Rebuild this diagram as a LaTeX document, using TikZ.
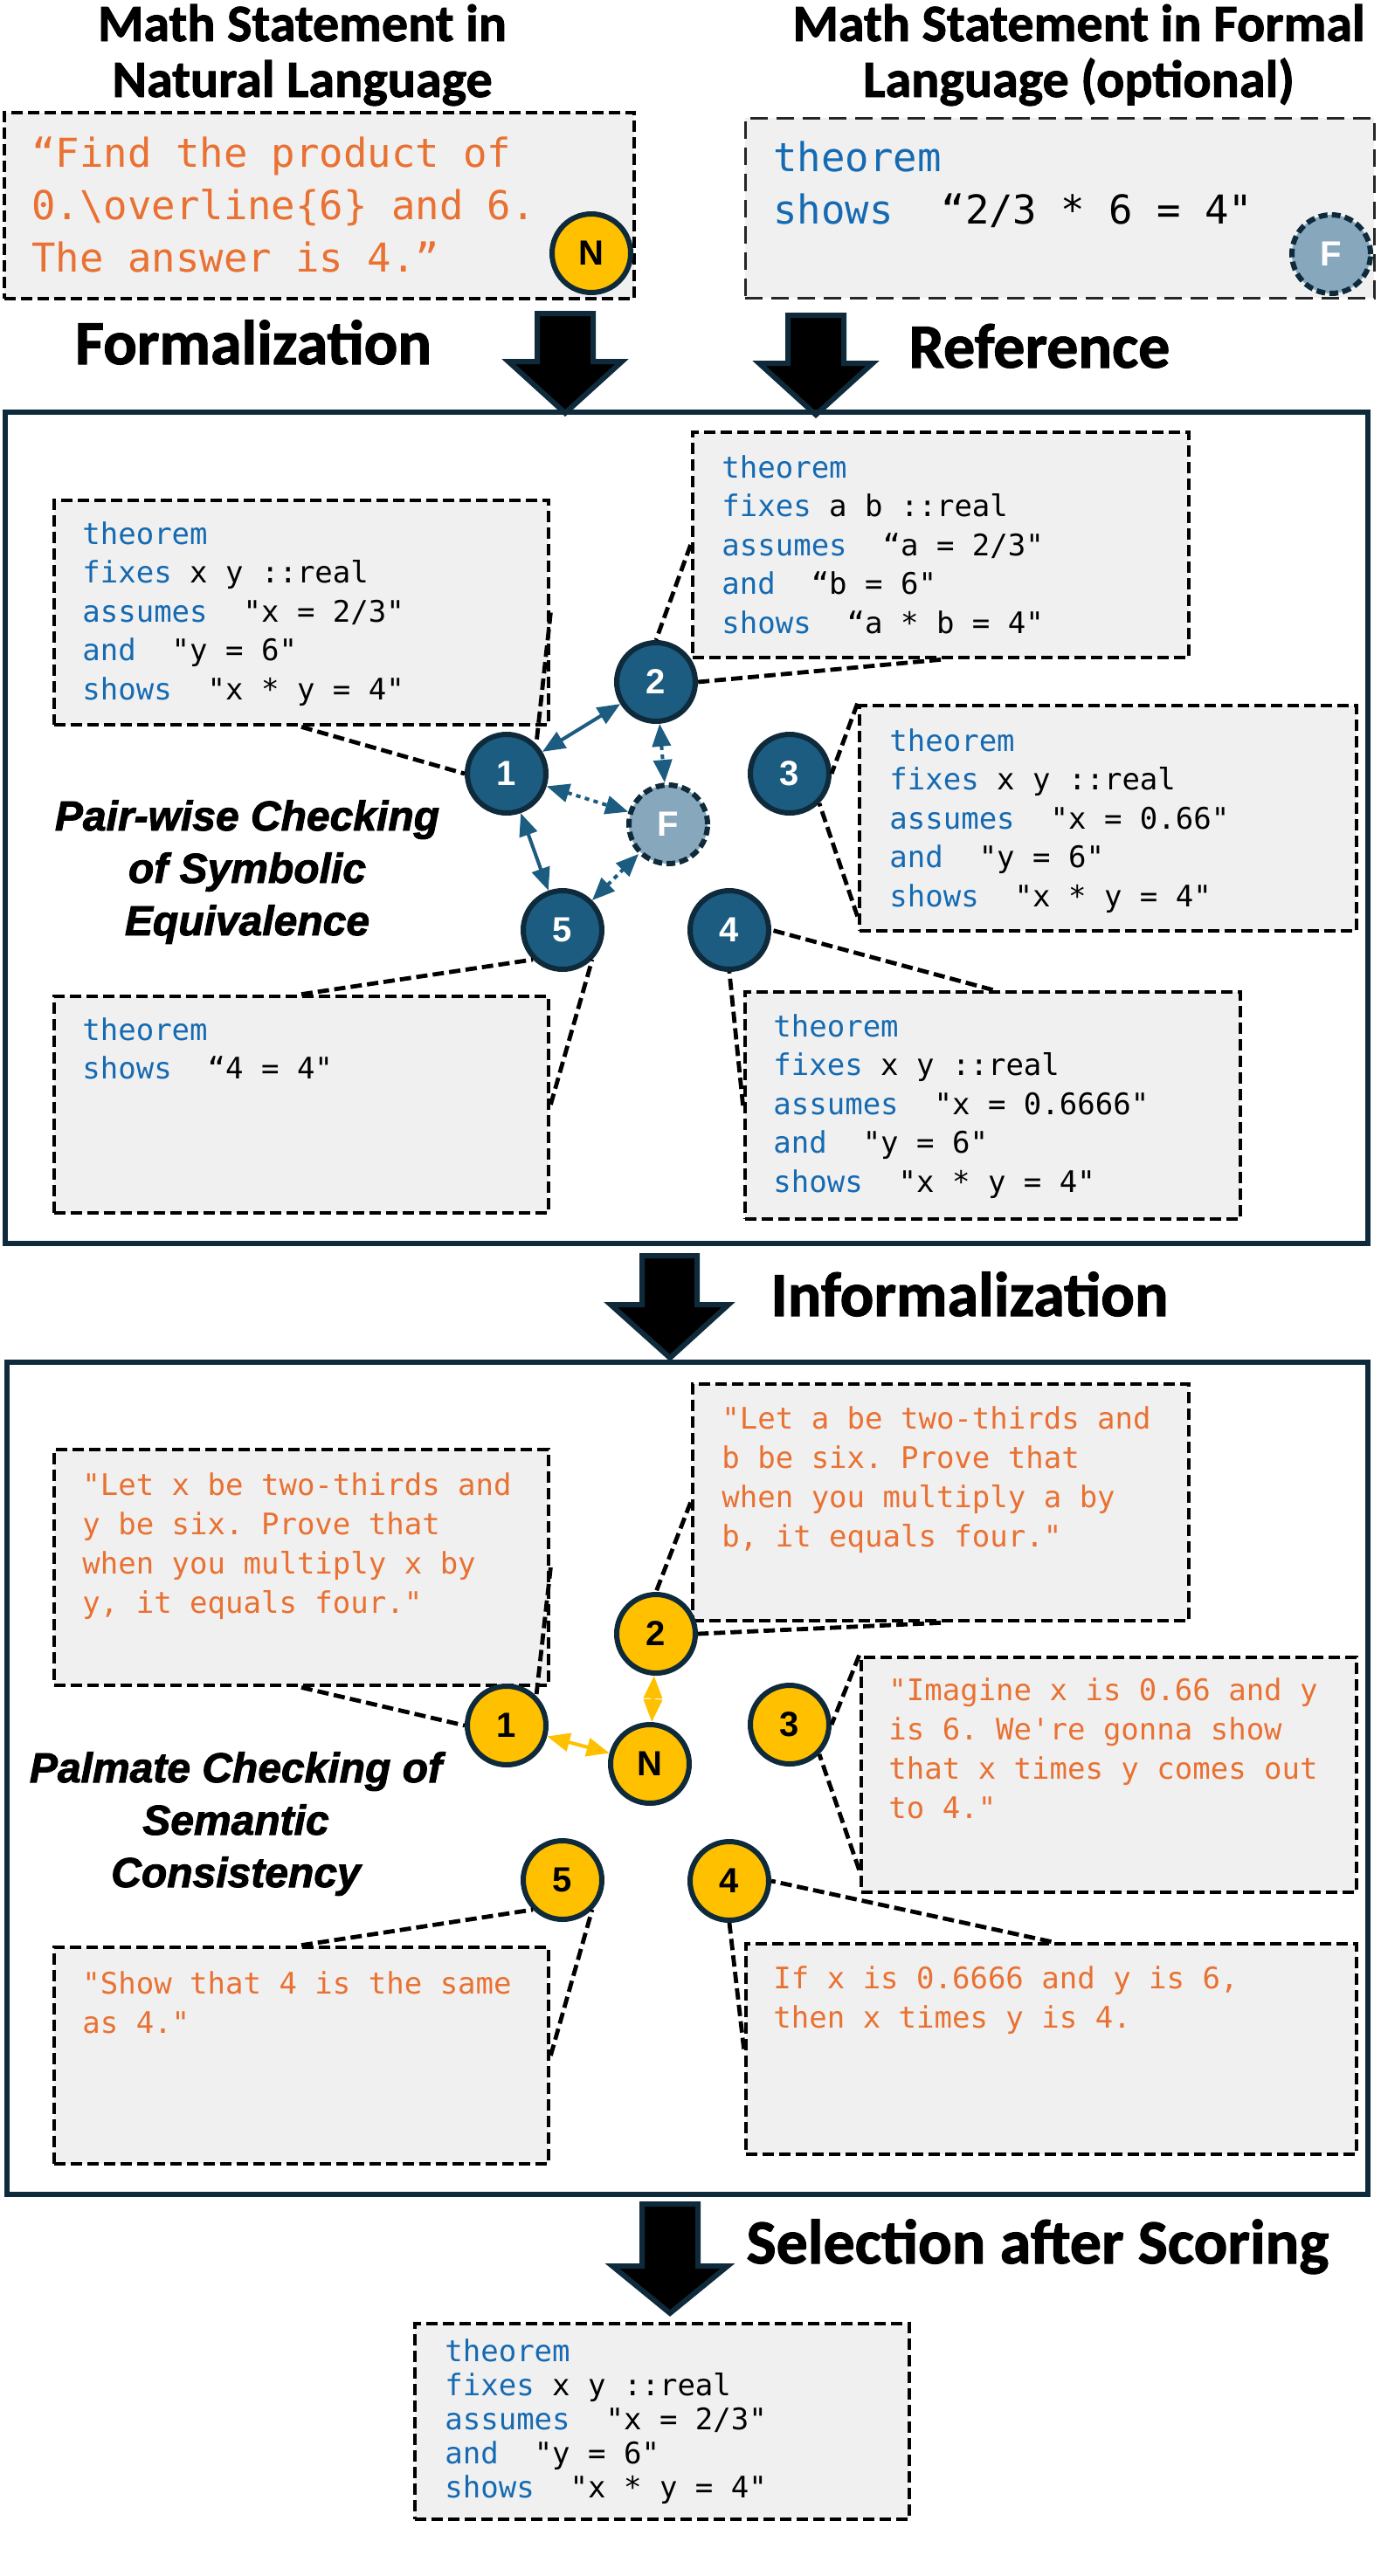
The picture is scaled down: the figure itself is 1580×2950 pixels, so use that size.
\documentclass[tikz,border=0pt]{standalone}
\usepackage{fontspec}
\setmainfont{Liberation Sans}
\setmonofont{DejaVu Sans Mono}
\newfontfamily\headfont{Carlito}[BoldFeatures={FakeBold=1.5}]
\newfontfamily\methodfont{Liberation Sans}[BoldItalicFeatures={FakeBold=2}]
\usetikzlibrary{arrows.meta,fit}
\definecolor{navy}{HTML}{0E2A3B}
\definecolor{nblue}{HTML}{1B5C80}
\definecolor{fblue}{HTML}{86A7BC}
\definecolor{gold}{HTML}{FFC000}
\definecolor{boxgray}{HTML}{F0F0F0}
\definecolor{nlorange}{HTML}{E97132}
\definecolor{kwblue}{HTML}{156AB2}
\newcommand\kw[1]{\textcolor{kwblue}{#1}}
\newcommand\codelines[1]{\parbox[t]{12cm}{#1}}
\newcommand\centerlines[1]{\parbox[t]{14cm}{\centering #1}}
\begin{document}
\begin{tikzpicture}[x=0.5pt,y=-0.5pt,
  cbox/.style={draw=black, fill=boxgray, line width=2.4pt, dash pattern=on 6.5pt off 3pt, inner sep=0pt},
  fbox/.style={draw=black!85, fill=boxgray, line width=1.5pt, dash pattern=on 10pt off 5pt, inner sep=0pt},
  panel/.style={draw=navy, line width=2.8pt, inner sep=0pt},
  ptr/.style={draw=black, line width=2.4pt, dash pattern=on 6.5pt off 3pt},
  code/.style={anchor=base west, inner sep=0pt, font=\ttfamily\frenchspacing\fontsize{17}{22.3}\selectfont},
  nltext/.style={code, text=nlorange, font=\ttfamily\frenchspacing\fontsize{17}{22.5}\selectfont},
  bigcode/.style={code, font=\ttfamily\frenchspacing\fontsize{22.8}{30}\selectfont},
  fincode/.style={code, font=\ttfamily\frenchspacing\fontsize{17}{19.5}\selectfont},
  fnode/.style={circle, draw=navy, fill=nblue, line width=3pt, minimum size=45pt, inner sep=0pt, text=white, font=\bfseries\fontsize{20}{20}\selectfont},
  ynode/.style={fnode, fill=gold, text=black},
  refnode/.style={fnode, fill=fblue, dash pattern=on 5pt off 2.5pt},
  barr/.style={draw=nblue, line width=2pt, arrows={Triangle[length=13pt,width=10.5pt]-Triangle[length=13pt,width=10.5pt]}},
  dotarr/.style={barr, dash pattern=on 2.6pt off 2.6pt},
  yarr/.style={barr, draw=gold},
  bigarr/.style={fill=black, draw=navy, line width=3pt, line join=miter},
  head/.style={font=\headfont\bfseries\fontsize{36}{40}\selectfont, inner sep=0pt, anchor=base},
  ttl/.style={font=\headfont\bfseries\fontsize{30}{32}\selectfont, inner sep=0pt, anchor=base},
  method/.style={font=\methodfont\bfseries\itshape\fontsize{24}{30}\selectfont, inner sep=0pt, anchor=base}
]
\useasboundingbox (0,0) rectangle (1580,2950);

% titles
\node[ttl] (title1) at (346,47) {\centerlines{Math Statement in\\Natural Language}};
\node[ttl] (title2) at (1235,47) {\centerlines{Math Statement in Formal\\Language (optional)}};

% input boxes
\node[cbox, fit={(5,129) (726,342)}] (nlbox) {};
\node[fbox, fit={(853,135) (1573,341)}] (flbox) {};
\node[bigcode, text=nlorange] (nltxt) at (36,191) {\codelines{“Find the product of\\0.\textbackslash overline\{6\} and 6.\\The answer is 4.”}};
\node[bigcode] (fltxt) at (885,196) {\codelines{\kw{theorem}\\\kw{shows}~~“2/3 * 6 = 4"}};
\node[ynode] (topN) at (677,290) {N};
\node[refnode] (topF) at (1524,291) {F};

% big arrows
\draw[bigarr] (615,359) -- (679,359) -- (679,414) -- (712,414) -- (647,473) -- (582,414) -- (615,414) -- cycle;
\draw[bigarr] (902,361) -- (966,361) -- (966,416) -- (999,416) -- (934,475) -- (869,416) -- (902,416) -- cycle;
\node[head] (hform) at (290,417) {Formalization};
\node[head] (href) at (1190,421) {Reference};

% panel 1
\node[panel, fit={(6,472) (1566,1424)}] (p1) {};
\node[cbox, fit={(62,573) (628,830)}] (b1) {};
\node[cbox, fit={(793,495) (1361,753)}] (b2) {};
\node[cbox, fit={(984,808) (1553,1066)}] (b3) {};
\node[cbox, fit={(853,1136) (1420,1396)}] (b4) {};
\node[cbox, fit={(62,1141) (628,1389)}] (b5) {};

\node[fnode] (n1) at (580,886) {1};
\node[fnode] (n2) at (751,781) {2};
\node[fnode] (n3) at (904,886) {3};
\node[fnode] (n4) at (835,1065) {4};
\node[fnode] (n5) at (644,1065) {5};
\node[refnode] (nf) at (765,944) {F};

\draw[ptr] (b1.south) -- (n1.west);
\draw[ptr] (b1.east) -- (n1.45);
\draw[ptr] (b2.west) -- (n2.north);
\draw[ptr] (b2.south) -- (n2.east);
\draw[ptr] (b3.north west) -- (n3.east);
\draw[ptr] ([yshift=9.5pt]b3.south west) -- (n3.-45);
\draw[ptr] (b4.north) -- (n4.east);
\draw[ptr] (b4.west) -- (n4.south);
\draw[ptr] (b5.north) -- (n5.-135);
\draw[ptr] (b5.east) -- (n5.-45);

\draw[barr] (n1) -- (n2);
\draw[dotarr] (n2) -- (nf);
\draw[dotarr] (n1) -- (nf);
\draw[barr] (n1) -- (n5);
\draw[dotarr] (n5) -- (nf);

\node[code] (t1) at (94,623) {\codelines{\kw{theorem}\\\kw{fixes} x y ::real\\\kw{assumes}~~"x = 2/3"\\\kw{and}~~"y = 6"\\\kw{shows}~~"x * y = 4"}};
\node[code] (t2) at (826,547) {\codelines{\kw{theorem}\\\kw{fixes} a b ::real\\\kw{assumes}~~“a = 2/3"\\\kw{and}~~“b = 6"\\\kw{shows}~~“a * b = 4"}};
\node[code] (t3) at (1018,860) {\codelines{\kw{theorem}\\\kw{fixes} x y ::real\\\kw{assumes}~~"x = 0.66"\\\kw{and}~~"y = 6"\\\kw{shows}~~"x * y = 4"}};
\node[code] (t4) at (885,1187) {\codelines{\kw{theorem}\\\kw{fixes} x y ::real\\\kw{assumes}~~"x = 0.6666"\\\kw{and}~~"y = 6"\\\kw{shows}~~"x * y = 4"}};
\node[code] (t5) at (94,1191) {\codelines{\kw{theorem}\\\kw{shows}~~“4 = 4"}};
\node[method] (pw) at (283,951) {\centerlines{Pair-wise Checking\\of Symbolic\\Equivalence}};

% arrow to panel 2
\draw[bigarr] (735,1438) -- (798,1438) -- (798,1494) -- (834,1494) -- (767,1555) -- (699,1494) -- (735,1494) -- cycle;
\node[head] (hinf) at (1110,1507) {Informalization};

% panel 2
\node[panel, fit={(8,1560) (1566,2513)}] (p2) {};
\node[cbox, fit={(62,1660) (628,1930)}] (q1) {};
\node[cbox, fit={(793,1585) (1361,1856)}] (q2) {};
\node[cbox, fit={(986,1898) (1553,2167)}] (q3) {};
\node[cbox, fit={(854,2226) (1553,2467)}] (q4) {};
\node[cbox, fit={(62,2230) (628,2478)}] (q5) {};

\node[ynode] (y1) at (580,1976) {1};
\node[ynode] (y2) at (751,1871) {2};
\node[ynode] (y3) at (904,1975) {3};
\node[ynode] (y4) at (835,2154) {4};
\node[ynode] (y5) at (644,2153) {5};
\node[ynode] (yn) at (744,2020) {N};

\draw[ptr] (q1.south) -- (y1.west);
\draw[ptr] (q1.east) -- (y1.45);
\draw[ptr] (q2.west) -- (y2.north);
\draw[ptr] (q2.south) -- (y2.east);
\draw[ptr] (q3.north west) -- (y3.east);
\draw[ptr] ([yshift=14pt]q3.south west) -- (y3.-45);
\draw[ptr] (q4.north) -- (y4.east);
\draw[ptr] (q4.west) -- (y4.south);
\draw[ptr] (q5.north) -- (y5.-135);
\draw[ptr] (q5.east) -- (y5.-45);

\draw[yarr] (y1) -- (yn);
\draw[yarr] (y2) -- (yn);

\node[nltext] (s1) at (94,1712) {\codelines{"Let x be two-thirds and\\y be six. Prove that\\when you multiply x by\\y, it equals four."}};
\node[nltext] (s2) at (826,1636) {\codelines{"Let a be two-thirds and\\b be six. Prove that\\when you multiply a by\\b, it equals four."}};
\node[nltext] (s3) at (1017,1947) {\codelines{"Imagine x is 0.66 and y\\is 6. We're gonna show\\that x times y comes out\\to 4."}};
\node[nltext] (s4) at (885,2277) {\codelines{If x is 0.6666 and y is 6,\\then x times y is 4.}};
\node[nltext] (s5) at (94,2283) {\codelines{"Show that 4 is the same\\as 4."}};
\node[method] (pc) at (270,2041) {\centerlines{Palmate Checking of\\Semantic\\Consistency}};

% final selection
\draw[bigarr] (735,2524) -- (799,2524) -- (799,2595) -- (833,2595) -- (767,2649) -- (701,2595) -- (735,2595) -- cycle;
\node[head] (hsel) at (1188,2592) {Selection after Scoring};
\node[cbox, fit={(475,2661) (1041,2885)}] (fin) {};
\node[fincode] (tfin) at (509,2704) {\codelines{\kw{theorem}\\\kw{fixes} x y ::real\\\kw{assumes}~~"x = 2/3"\\\kw{and}~~"y = 6"\\\kw{shows}~~"x * y = 4"}};
\end{tikzpicture}
\end{document}
